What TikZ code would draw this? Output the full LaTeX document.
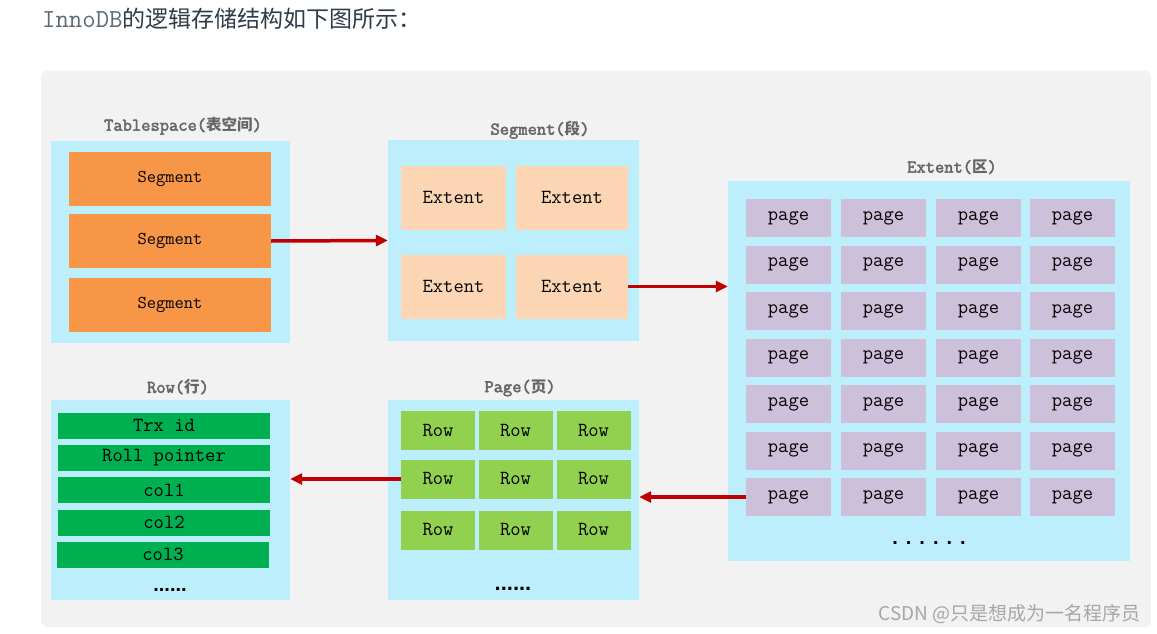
\documentclass[tikz,border=0pt]{standalone}
\usepackage{fontspec}
\newfontfamily\cjk{Noto Sans CJK SC}
\newfontfamily\titlemono{Latin Modern Mono}[AutoFakeBold=2.5]
\newfontfamily\dotsfont{Liberation Sans}
\usetikzlibrary{arrows.meta}

\definecolor{panelgray}{HTML}{F2F2F2}
\definecolor{boxblue}{HTML}{BDEEFC}
\definecolor{segorange}{HTML}{F79646}
\definecolor{extpeach}{HTML}{FCD5B4}
\definecolor{pagelilac}{HTML}{CCC0DA}
\definecolor{fieldgreen}{HTML}{00B050}
\definecolor{rowgreen}{HTML}{92D050}
\definecolor{linkred}{HTML}{C00000}
\definecolor{titlegray}{HTML}{666666}
\definecolor{headgray}{HTML}{5C6B77}
\definecolor{headdark}{HTML}{2E3C4A}
\definecolor{markgray}{HTML}{A6A6A6}

\tikzset{
  box/.style={rectangle,fill=boxblue,inner sep=0pt},
  title/.style={inner sep=0pt,text=titlegray,font=\fontsize{18}{18}\selectfont\titlemono\bfseries},
  link/.style={draw=linkred,line width=3.5pt,-{Triangle[length=12pt,width=11pt]}}
}
\newcommand{\zh}[1]{{\cjk\bfseries\fontsize{15.5}{16}\selectfont #1}}

\begin{document}
\begin{tikzpicture}[x=1pt,y=-1pt]
            \useasboundingbox (0,0) rectangle (1157,634);
            \fill[white] (0,0) rectangle (1157,634);
            \fill[panelgray,rounded corners=6pt] (41,71) rectangle (1151,627);

            \node[anchor=west,inner sep=0pt] (head) at (42,19)
                {{\fontsize{26}{26}\selectfont\ttfamily\color{headgray}InnoDB}{\cjk\fontsize{23}{23}\selectfont\color{headdark}的逻辑存储结构如下图所示：}};

            % the five containers
            \node[box,minimum width=239pt,minimum height=202pt] (ts) at (170.5,242) {};
            \node[box,minimum width=251pt,minimum height=201pt] (sg) at (513.5,240.5) {};
            \node[box,minimum width=402pt,minimum height=380pt] (ex) at (929,371) {};
            \node[box,minimum width=239pt,minimum height=200pt] (rw) at (170.5,500) {};
            \node[box,minimum width=251pt,minimum height=200pt] (pg) at (513.5,500) {};

            \node[title] (tstitle) at (183,126) {Tablespace(\zh{表空间})};
            \node[title] (sgtitle) at (540,130) {Segment(\zh{段})};
            \node[title] (extitle) at (952,167) {Extent(\zh{区})};
            \node[title] (rwtitle) at (178,387) {Row(\zh{行})};
            \node[title] (pgtitle) at (520,388) {Page(\zh{页})};

            \begin{scope}[every node/.style={rectangle,fill=segorange,inner sep=0pt,minimum width=202pt,minimum height=54pt,font=\fontsize{18}{18}\selectfont\ttfamily}]
                \node (s1) at (170,179) {Segment};
                \node (s2) at (170,241) {Segment};
                \node (s3) at (170,305) {Segment};
            \end{scope}

            \begin{scope}[every node/.style={rectangle,fill=extpeach,inner sep=0pt,minimum height=64pt,font=\fontsize{20}{20}\selectfont\ttfamily}]
                \node[minimum width=105pt] (e1) at (453.5,197.5) {Extent};
                \node[minimum width=112pt] (e2) at (572,197.5) {Extent};
                \node[minimum width=105pt] (e3) at (453.5,286.5) {Extent};
                \node[minimum width=112pt] (e4) at (572,286.5) {Extent};
            \end{scope}

            \begin{scope}[every node/.style={rectangle,fill=pagelilac,inner sep=0pt,minimum width=85pt,minimum height=38pt,font=\fontsize{20}{20}\selectfont\ttfamily}]
                \node (p11) at (788.5,218) {page};
                \node (p12) at (883.5,218) {page};
                \node (p13) at (978.5,218) {page};
                \node (p14) at (1072.5,218) {page};
                \node (p21) at (788.5,264.5) {page};
                \node (p22) at (883.5,264.5) {page};
                \node (p23) at (978.5,264.5) {page};
                \node (p24) at (1072.5,264.5) {page};
                \node (p31) at (788.5,311) {page};
                \node (p32) at (883.5,311) {page};
                \node (p33) at (978.5,311) {page};
                \node (p34) at (1072.5,311) {page};
                \node (p41) at (788.5,357.5) {page};
                \node (p42) at (883.5,357.5) {page};
                \node (p43) at (978.5,357.5) {page};
                \node (p44) at (1072.5,357.5) {page};
                \node (p51) at (788.5,404) {page};
                \node (p52) at (883.5,404) {page};
                \node (p53) at (978.5,404) {page};
                \node (p54) at (1072.5,404) {page};
                \node (p61) at (788.5,450.5) {page};
                \node (p62) at (883.5,450.5) {page};
                \node (p63) at (978.5,450.5) {page};
                \node (p64) at (1072.5,450.5) {page};
                \node (p71) at (788.5,497) {page};
                \node (p72) at (883.5,497) {page};
                \node (p73) at (978.5,497) {page};
                \node (p74) at (1072.5,497) {page};
            \end{scope}

            \begin{scope}[every node/.style={rectangle,fill=rowgreen,inner sep=0pt,minimum width=74pt,minimum height=39pt,font=\fontsize{20}{20}\selectfont\ttfamily}]
                \node (r1) at (438,430.5) {Row};
                \node (r2) at (515.5,430.5) {Row};
                \node (r3) at (593.5,430.5) {Row};
                \node (r4) at (438,479) {Row};
                \node (r5) at (515.5,479) {Row};
                \node (r6) at (593.5,479) {Row};
                \node (r7) at (438,530) {Row};
                \node (r8) at (515.5,530) {Row};
                \node (r9) at (593.5,530) {Row};
            \end{scope}

            \begin{scope}[every node/.style={rectangle,fill=fieldgreen,inner sep=0pt,minimum width=212pt,minimum height=26pt,font=\fontsize{20}{20}\selectfont\ttfamily}]
                \node (f1) at (164,425.5) {Trx id};
                \node (f2) at (164,458) {Roll pointer};
                \node (f3) at (164,490) {col1};
                \node (f4) at (164,522.5) {col2};
                \node (f5) at (163,554.5) {col3};
            \end{scope}

            \node[font=\fontsize{20}{20}\selectfont\dotsfont\bfseries,inner xsep=0pt] (exdots) at (929,543) {.\hspace{8pt}.\hspace{8pt}.\hspace{8pt}.\hspace{8pt}.\hspace{8pt}.};
            \node[font=\fontsize{22}{22}\selectfont\dotsfont\bfseries] (pgdots) at (513,589) {......};
            \node[font=\fontsize{20}{20}\selectfont\dotsfont\bfseries] (rwdots) at (170,590) {......};

            \draw[link] (s2.east) -- (sg.west);
            \draw[link] (e4.east) -- (e4.east -| ex.west);
            \draw[link] (p71.west) -- (p71.west -| pg.east);
            \draw[link] (r4.west) -- (r4.west -| rw.east);

            \node[anchor=east,inner sep=0pt,text=markgray,font=\cjk\fontsize{19}{19}\selectfont] (mark) at (1141,614) {CSDN @只是想成为一名程序员};
        \end{tikzpicture}
\end{document}
